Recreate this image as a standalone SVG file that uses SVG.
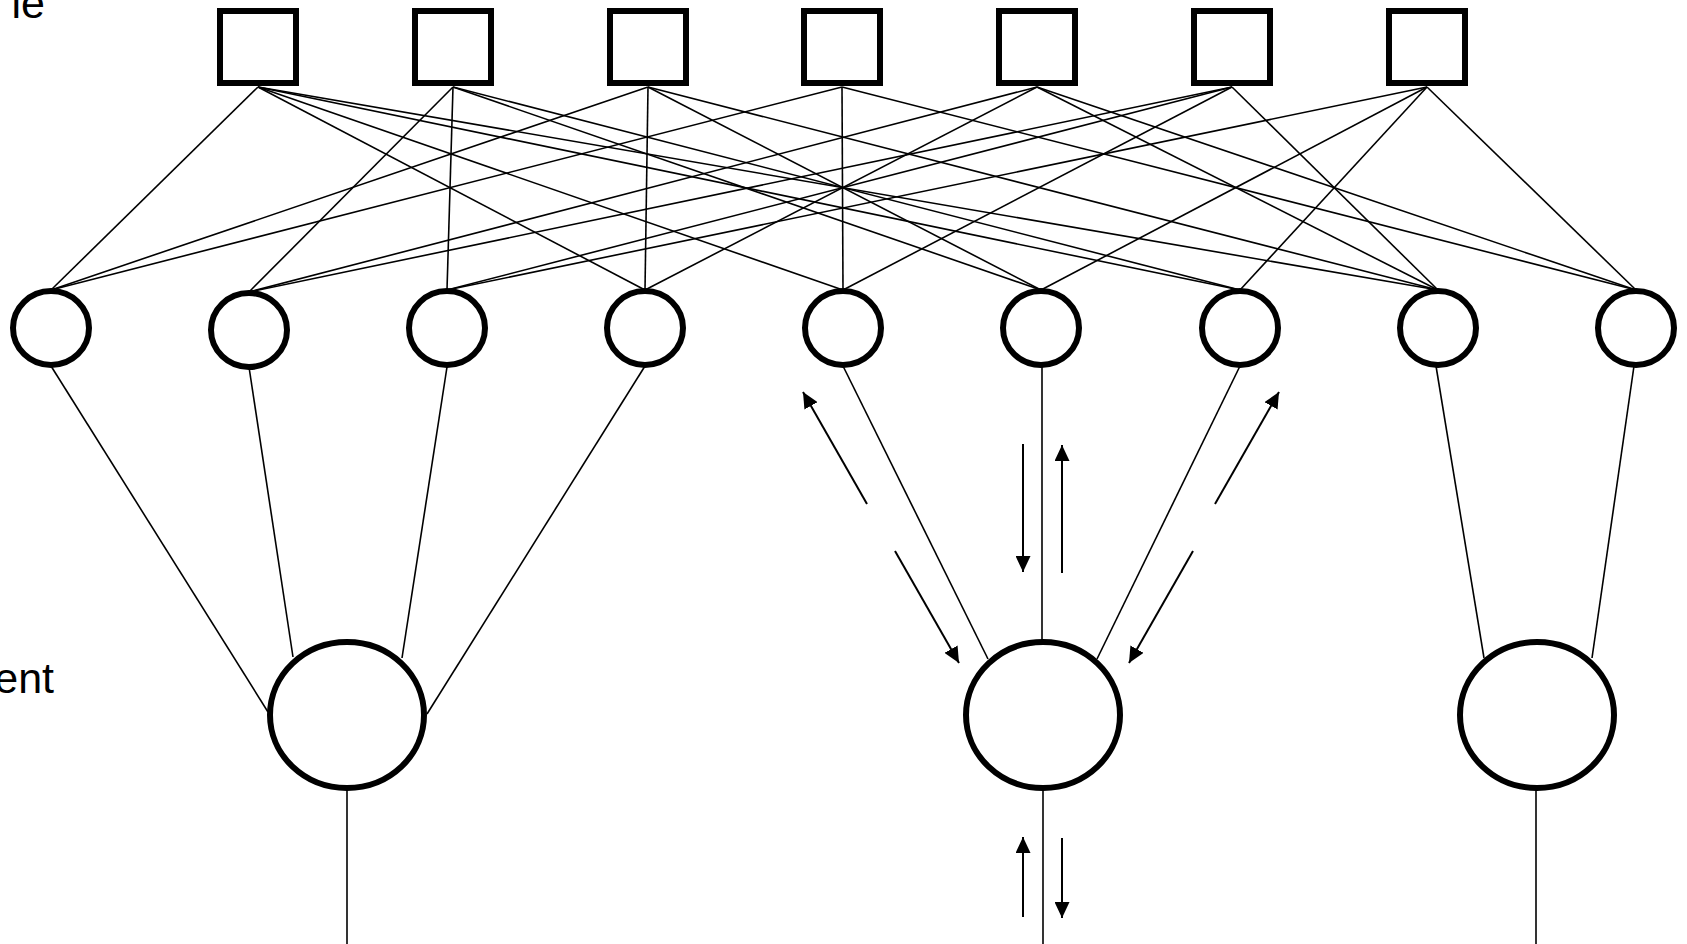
<svg xmlns="http://www.w3.org/2000/svg" width="1687" height="944" viewBox="0 0 1687 944">
<style>
.bg{fill:#fff}
.e{stroke:#000;stroke-width:1.6;fill:none}
.a{stroke:#000;stroke-width:2;fill:none;marker-end:url(#ah)}
.sq{fill:#fff;stroke:#000;stroke-width:6}
.c{fill:#fff;stroke:#000;stroke-width:6}
.t{font-family:"Liberation Sans",Arial,sans-serif;font-size:43px;fill:#000}
</style>
<defs>
<marker id="ah" markerWidth="16" markerHeight="15" refX="16" refY="7.5" orient="auto" markerUnits="userSpaceOnUse">
<path d="M0,0 L16,7.5 L0,15 z" fill="#000"/>
</marker>
</defs>
<rect class="bg" x="0" y="0" width="1687" height="944"/>
<text class="t" x="45" y="18" text-anchor="end">le</text>
<text class="t" x="54" y="693" text-anchor="end">ent</text>
<g id="connectors">
<line class="e" x1="258" y1="87" x2="51" y2="290"/>
<line class="e" x1="258" y1="87" x2="645" y2="290"/>
<line class="e" x1="258" y1="87" x2="843" y2="290"/>
<line class="e" x1="258" y1="87" x2="1240" y2="290"/>
<line class="e" x1="258" y1="87" x2="1438" y2="290"/>
<line class="e" x1="453" y1="87" x2="249" y2="292"/>
<line class="e" x1="453" y1="87" x2="447" y2="290"/>
<line class="e" x1="453" y1="87" x2="1041" y2="290"/>
<line class="e" x1="453" y1="87" x2="1240" y2="290"/>
<line class="e" x1="648" y1="87" x2="51" y2="290"/>
<line class="e" x1="648" y1="87" x2="645" y2="290"/>
<line class="e" x1="648" y1="87" x2="1041" y2="290"/>
<line class="e" x1="648" y1="87" x2="1438" y2="290"/>
<line class="e" x1="842" y1="87" x2="51" y2="290"/>
<line class="e" x1="842" y1="87" x2="843" y2="290"/>
<line class="e" x1="842" y1="87" x2="1636" y2="290"/>
<line class="e" x1="1037" y1="87" x2="249" y2="292"/>
<line class="e" x1="1037" y1="87" x2="645" y2="290"/>
<line class="e" x1="1037" y1="87" x2="1438" y2="290"/>
<line class="e" x1="1037" y1="87" x2="1636" y2="290"/>
<line class="e" x1="1232" y1="87" x2="249" y2="292"/>
<line class="e" x1="1232" y1="87" x2="447" y2="290"/>
<line class="e" x1="1232" y1="87" x2="843" y2="290"/>
<line class="e" x1="1232" y1="87" x2="1438" y2="290"/>
<line class="e" x1="1427" y1="87" x2="447" y2="290"/>
<line class="e" x1="1427" y1="87" x2="1041" y2="290"/>
<line class="e" x1="1427" y1="87" x2="1240" y2="290"/>
<line class="e" x1="1427" y1="87" x2="1636" y2="290"/>
<line class="e" x1="51" y1="366" x2="268" y2="712"/>
<line class="e" x1="249" y1="367" x2="293" y2="657"/>
<line class="e" x1="447" y1="367" x2="402" y2="658"/>
<line class="e" x1="645" y1="366" x2="427" y2="714"/>
<line class="e" x1="843" y1="366" x2="988" y2="659"/>
<line class="e" x1="1042" y1="366" x2="1042" y2="640"/>
<line class="e" x1="1240" y1="366" x2="1097" y2="659"/>
<line class="e" x1="1436" y1="366" x2="1484" y2="658"/>
<line class="e" x1="1634" y1="366" x2="1592" y2="658"/>
<line class="e" x1="347" y1="790" x2="347" y2="944"/>
<line class="e" x1="1043" y1="790" x2="1043" y2="944"/>
<line class="e" x1="1536" y1="790" x2="1536" y2="944"/>
<line class="a" x1="867" y1="504" x2="803" y2="392"/>
<line class="a" x1="895" y1="551" x2="959" y2="663"/>
<line class="a" x1="1023" y1="444" x2="1023" y2="572"/>
<line class="a" x1="1062" y1="573" x2="1062" y2="445"/>
<line class="a" x1="1215" y1="504" x2="1279" y2="392"/>
<line class="a" x1="1193" y1="551" x2="1129" y2="663"/>
<line class="a" x1="1023" y1="917" x2="1023" y2="837"/>
<line class="a" x1="1062" y1="838" x2="1062" y2="918"/>
</g>
<g id="s1"><rect class="sq" x="220" y="11" width="76" height="72"/></g>
<g id="s2"><rect class="sq" x="415" y="11" width="76" height="72"/></g>
<g id="s3"><rect class="sq" x="610" y="11" width="76" height="72"/></g>
<g id="s4"><rect class="sq" x="804" y="11" width="76" height="72"/></g>
<g id="s5"><rect class="sq" x="999" y="11" width="76" height="72"/></g>
<g id="s6"><rect class="sq" x="1194" y="11" width="76" height="72"/></g>
<g id="s7"><rect class="sq" x="1389" y="11" width="76" height="72"/></g>
<g id="c1"><ellipse class="c" cx="51" cy="328" rx="38" ry="37"/></g>
<g id="c2"><ellipse class="c" cx="249" cy="330" rx="38" ry="37"/></g>
<g id="c3"><ellipse class="c" cx="447" cy="328" rx="38" ry="37"/></g>
<g id="c4"><ellipse class="c" cx="645" cy="328" rx="38" ry="37"/></g>
<g id="c5"><ellipse class="c" cx="843" cy="328" rx="38" ry="37"/></g>
<g id="c6"><ellipse class="c" cx="1041" cy="328" rx="38" ry="37"/></g>
<g id="c7"><ellipse class="c" cx="1240" cy="328" rx="38" ry="37"/></g>
<g id="c8"><ellipse class="c" cx="1438" cy="328" rx="38" ry="37"/></g>
<g id="c9"><ellipse class="c" cx="1636" cy="328" rx="38" ry="37"/></g>
<g id="b1"><ellipse class="c" cx="347" cy="715" rx="77" ry="73"/></g>
<g id="b2"><ellipse class="c" cx="1043" cy="715" rx="77" ry="73"/></g>
<g id="b3"><ellipse class="c" cx="1537" cy="715" rx="77" ry="73"/></g>
</svg>
